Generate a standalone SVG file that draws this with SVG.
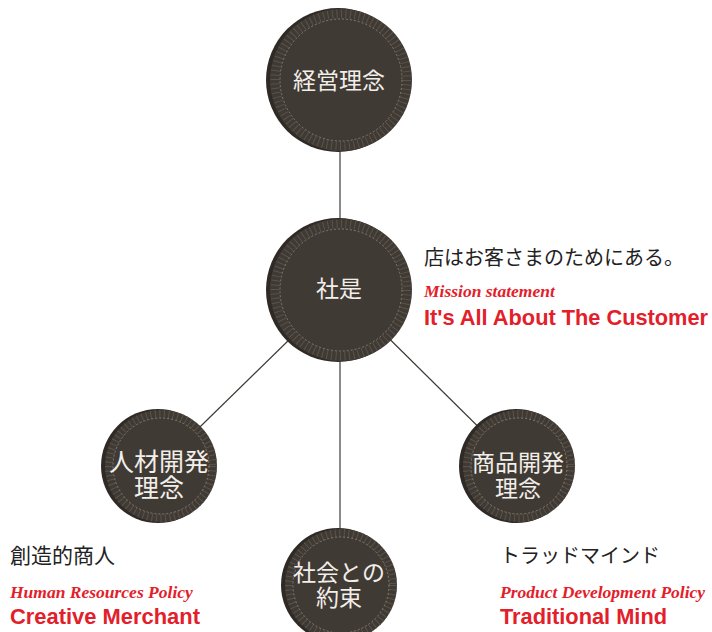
<svg xmlns="http://www.w3.org/2000/svg" width="712" height="632" viewBox="0 0 712 632">
<defs>
<style>
.bg{fill:#ffffff}
.shade{fill:#2f2a26}
.disc{fill:#403a34}
.rim{fill:none;stroke:#5b534b;stroke-dasharray:1 3.5}
.ring{fill:none;stroke:#9c9288;stroke-width:0.7;stroke-dasharray:2 2}
.lbl{fill:#f2eee9;font-family:"Noto Sans CJK JP","Noto Sans",sans-serif;font-size:23px;text-anchor:middle}
.jp{fill:#222;font-family:"Noto Sans CJK JP",serif;font-size:20px}
.sub{fill:#e3202a;font-family:"Liberation Serif",serif;font-style:italic;font-weight:bold;font-size:17.5px}
.main{fill:#e3202a;font-family:"Liberation Sans",Arial,sans-serif;font-weight:bold;font-size:22px}
.edge{stroke:#3e3934;stroke-width:1.2;fill:none}
</style>
</defs>
<rect class="bg" width="712" height="632"/>
<g id="connectors">
<line class="edge" x1="340" y1="150" x2="340" y2="220"/>
<line class="edge" x1="340" y1="290" x2="160" y2="466"/>
<line class="edge" x1="340" y1="290" x2="340" y2="585"/>
<line class="edge" x1="340" y1="290" x2="518" y2="466"/>
</g>
<g id="node-keiei">
<circle class="shade" cx="338" cy="80" r="72"/>
<circle class="disc" cx="341" cy="80" r="71"/>
<circle class="rim" cx="341" cy="80" r="66" stroke-width="9"/>
<circle class="ring" cx="341" cy="80" r="61"/>
<text class="lbl" x="339" y="89">経営理念</text>
</g>
<g id="node-shaze">
<circle class="shade" cx="338" cy="290" r="72"/>
<circle class="disc" cx="341" cy="290" r="71"/>
<circle class="rim" cx="341" cy="290" r="66" stroke-width="9"/>
<circle class="ring" cx="341" cy="290" r="61"/>
<text class="lbl" x="339" y="297">社是</text>
</g>
<g id="node-jinzai">
<circle class="shade" cx="158" cy="466" r="57"/>
<circle class="disc" cx="161" cy="466" r="56"/>
<circle class="rim" cx="161" cy="466" r="52" stroke-width="8"/>
<circle class="ring" cx="161" cy="466" r="48"/>
<text class="lbl" style="font-size:25px"><tspan x="159" y="471">人材開発</tspan><tspan x="159" y="497">理念</tspan></text>
</g>
<g id="node-shakai">
<circle class="shade" cx="338" cy="585" r="57"/>
<circle class="disc" cx="341" cy="585" r="56"/>
<circle class="rim" cx="341" cy="585" r="52" stroke-width="8"/>
<circle class="ring" cx="341" cy="585" r="48"/>
<text class="lbl"><tspan x="339" y="581">社会との</tspan><tspan x="339" y="606">約束</tspan></text>
</g>
<g id="node-shohin">
<circle class="shade" cx="516" cy="466" r="57"/>
<circle class="disc" cx="519" cy="466" r="56"/>
<circle class="rim" cx="519" cy="466" r="52" stroke-width="8"/>
<circle class="ring" cx="519" cy="466" r="48"/>
<text class="lbl"><tspan x="518" y="471">商品開発</tspan><tspan x="518" y="497">理念</tspan></text>
</g>
<g id="caption-mission">
<text class="jp" x="424" y="265">店はお客さまのためにある。</text>
<text class="sub" x="424" y="297">Mission statement</text>
<text class="main" x="424" y="325" textLength="284" lengthAdjust="spacingAndGlyphs">It's All About The Customer</text>
</g>
<g id="caption-human">
<text class="jp" x="10" y="563" style="font-size:21px">創造的商人</text>
<text class="sub" x="10" y="598">Human Resources Policy</text>
<text class="main" x="10" y="624" textLength="190" lengthAdjust="spacingAndGlyphs">Creative Merchant</text>
</g>
<g id="caption-product">
<text class="jp" x="500" y="563">トラッドマインド</text>
<text class="sub" x="500" y="598">Product Development Policy</text>
<text class="main" x="500" y="624" textLength="167" lengthAdjust="spacingAndGlyphs">Traditional Mind</text>
</g>
</svg>
